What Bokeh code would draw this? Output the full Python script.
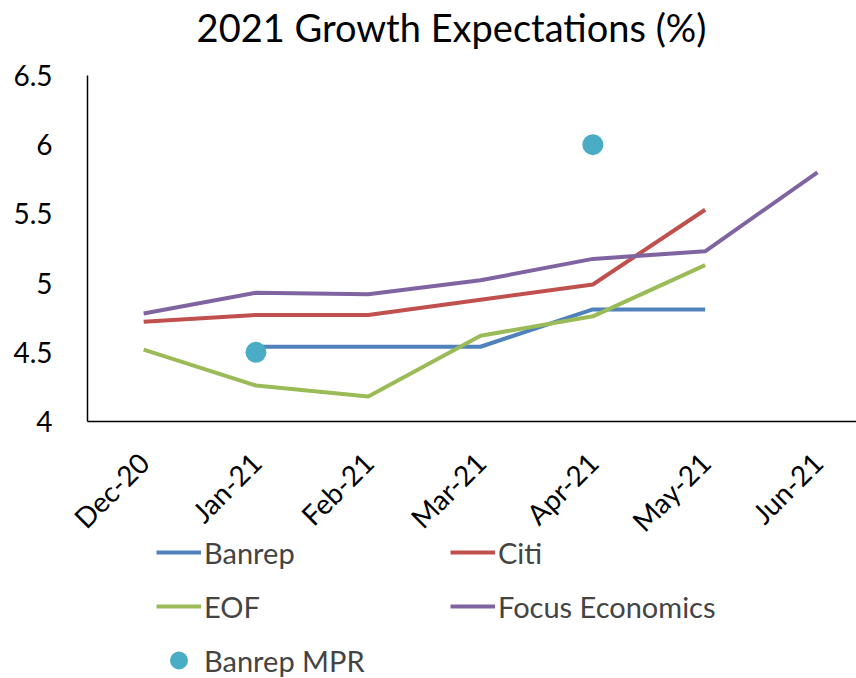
from bokeh.plotting import figure
from bokeh.models import Range1d, FixedTicker, NumeralTickFormatter, Legend, LegendItem, ColumnDataSource, Label
from bokeh.embed import file_html
from bokeh.resources import INLINE
import math

months = ["Dec-20", "Jan-21", "Feb-21", "Mar-21", "Apr-21", "May-21", "Jun-21"]
nan = float("nan")
banrep = [nan, 4.54, 4.54, 4.54, 4.81, 4.81, nan]
citi = [4.72, 4.77, 4.77, 4.88, 4.99, 5.53, nan]
eof = [4.52, 4.26, 4.18, 4.62, 4.76, 5.13, nan]
focus = [4.78, 4.93, 4.92, 5.02, 5.175, 5.23, 5.80]
banrep_mpr = [nan, 4.50, nan, nan, 6.00, nan, nan]
y_ticks = [4, 4.5, 5, 5.5, 6, 6.5]
y_min, y_max = 4, 6.5
title_text = "2021 Growth Expectations (%)"

FONT = "Lato"
xs = list(range(len(months)))

# The frame covers the whole page; the axes are pinned inside it.
W, H = 856, 678
AX_LEFT, AX_TOP, AX_BOTTOM = 87, 75, 421   # pixel position of the axis box
step = 112.3                                # pixels per month
x_first = -0.5
x_low = x_first - AX_LEFT / step
x_high = x_first + (W - AX_LEFT) / step
ppu = (AX_BOTTOM - AX_TOP) / (y_max - y_min)
y_low = y_min - (H - AX_BOTTOM) / ppu
y_high = y_max + AX_TOP / ppu

p = figure(width=W, height=H, output_backend="svg", toolbar_location=None,
           x_range=Range1d(x_low, x_high), y_range=Range1d(y_low, y_high),
           min_border_left=0, min_border_right=0, min_border_top=0, min_border_bottom=0)
p.outline_line_color = None
p.grid.visible = False
p.background_fill_color = "white"
p.border_fill_color = "white"

p.add_layout(Label(x=451, y=H - 26, x_units="screen", y_units="screen", text=title_text,
                   text_font=FONT, text_font_size="38px", text_align="center",
                   text_baseline="alphabetic", text_color="black"))

p.yaxis.ticker = FixedTicker(ticks=y_ticks)
p.yaxis.formatter = NumeralTickFormatter(format="0.[0]")
p.yaxis.bounds = (y_min, y_max)
p.yaxis.fixed_location = x_first
p.xaxis.ticker = FixedTicker(ticks=xs)
p.xaxis.major_label_overrides = {i: m for i, m in enumerate(months)}
p.xaxis.major_label_orientation = math.pi / 4
p.xaxis.bounds = (x_first, x_high)
p.xaxis.fixed_location = y_min
for ax in (p.xaxis, p.yaxis):
    ax.major_tick_out = 0
    ax.major_tick_in = 0
    ax.minor_tick_out = 0
    ax.minor_tick_in = 0
    ax.axis_line_color = "black"
    ax.axis_line_width = 1.5
    ax.major_label_text_font = FONT
    ax.major_label_text_color = "black"
p.yaxis.major_label_text_font_size = "28px"
p.yaxis.major_label_standoff = 35
p.xaxis.major_label_text_font_size = "28px"
p.xaxis.major_label_standoff = 36

src = ColumnDataSource(dict(x=xs, banrep=banrep, citi=citi, eof=eof, focus=focus, mpr=banrep_mpr))
r_b = p.line("x", "banrep", source=src, line_color="#4F81BD", line_width=4)
r_c = p.line("x", "citi", source=src, line_color="#C0504D", line_width=4)
r_e = p.line("x", "eof", source=src, line_color="#9BBB59", line_width=4)
r_f = p.line("x", "focus", source=src, line_color="#8064A2", line_width=4)
r_m = p.scatter("x", "mpr", source=src, size=21, fill_color="#4BACC6", line_color=None)

legend = Legend(items=[
    LegendItem(label="Banrep", renderers=[r_b]),
    LegendItem(label="EOF", renderers=[r_e]),
    LegendItem(label="Banrep MPR", renderers=[r_m]),
    LegendItem(label="Citi", renderers=[r_c]),
    LegendItem(label="Focus Economics", renderers=[r_f]),
], orientation="vertical", nrows=3, location=(156, -6))
legend.label_text_font = FONT
legend.label_text_font_size = "29px"
legend.glyph_width = 45
legend.glyph_height = 48
legend.label_standoff = 3
legend.label_width = 240
legend.label_height = 34
legend.spacing = 6
legend.padding = 1
legend.margin = 0
legend.border_line_color = None
legend.background_fill_alpha = 0
p.add_layout(legend, "center")

open("out.html", "w").write(file_html(p, INLINE))
